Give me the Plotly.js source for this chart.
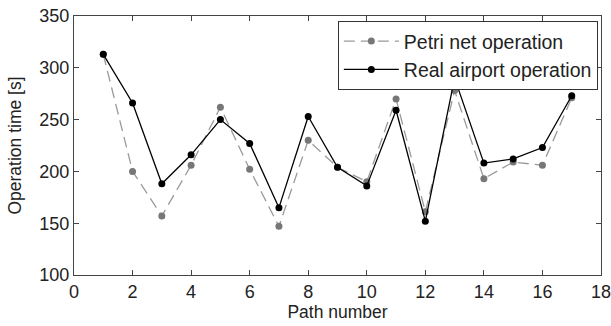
<!DOCTYPE html>
<html><head><meta charset="utf-8">
<script src="https://cdn.plot.ly/plotly-3.0.1.min.js"></script>
<style>html,body{margin:0;padding:0;background:#fff}</style>
</head><body><div id="chart" style="width:611px;height:326px"></div>
<script>
const pathNumber = [1,2,3,4,5,6,7,8,9,10,11,12,13,14,15,16,17];
const petriNet = [313,200,157,206,262,202,147,230,204,190,270,161,278,193,209,206,271];
const realAirport = [313,266,188,216,250,227,165,253,204,186,259,152,290,208,212,223,273];
const xTicks = [0,2,4,6,8,10,12,14,16,18];
const yTicks = [100,150,200,250,300,350];

const fam = 'Liberation Sans, Arial, sans-serif';
const tickFont = {family: fam, size: 18, color: '#222'};
const titleFont = {family: fam, size: 17.5, color: '#222'};
const traces = [
  {x: pathNumber, y: petriNet, name: 'Petri net operation', mode: 'lines+markers',
   line: {color: '#9a9a9a', width: 1.3, dash: '11px,6px'}, marker: {color: '#777', size: 7}},
  {x: pathNumber, y: realAirport, name: 'Real airport operation', mode: 'lines+markers',
   line: {color: '#000', width: 1.3}, marker: {color: '#000', size: 7}}
];
const axisCommon = {showgrid: false, zeroline: false, showline: true, mirror: 'ticks',
  linecolor: '#444', linewidth: 1, ticks: 'inside', ticklen: 5, tickcolor: '#444',
  tickfont: tickFont, ticklabeloverflow: 'allow'};
const layout = {
  width: 611, height: 326, margin: {l: 74, r: 10, t: 16, b: 51},
  paper_bgcolor: '#fff', plot_bgcolor: '#fff', font: titleFont,
  xaxis: Object.assign({}, axisCommon, {range: [0, 18], tickvals: xTicks,
    title: {text: 'Path number', font: titleFont, standoff: 4}}),
  yaxis: Object.assign({}, axisCommon, {range: [100, 350], tickvals: yTicks,
    title: {text: 'Operation time [s]', font: titleFont, standoff: 13}}),
  legend: {x: 0.994, y: 0.981, xanchor: 'right', yanchor: 'top', bgcolor: '#fff',
    bordercolor: '#333', borderwidth: 1, font: {family: fam, size: 19.5, color: '#222'},
    tracegroupgap: 0, itemwidth: 55},
  showlegend: true
};
Plotly.newPlot('chart', traces, layout, {displayModeBar: false, staticPlot: true});
</script></body></html>
